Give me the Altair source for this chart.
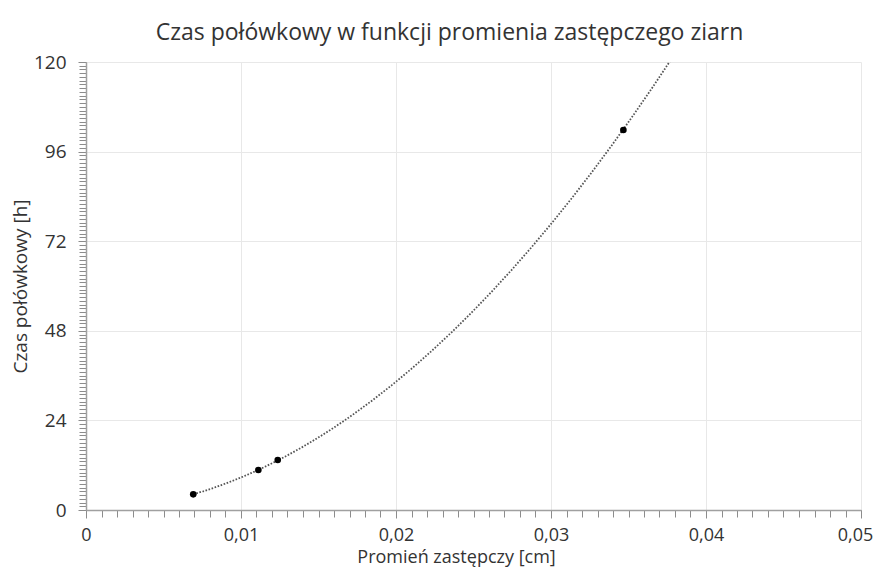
import altair as alt
import pandas as pd

# Data
promien = [0.00692, 0.01112, 0.01237, 0.03467]
czas = [4.2, 10.7, 13.4, 101.8]

x_major = [0, 0.01, 0.02, 0.03, 0.04, 0.05]
x_minor = [i / 1000 for i in range(0, 51)]
y_major = [0, 24, 48, 72, 96, 120]
y_minor = list(range(0, 121))

df = pd.DataFrame({"x": promien, "y": czas})

FONT = "Open Sans"
AXIS_GRAY = "#a0a0a0"
TICK_GRAY = "#8c8c8c"
GRID_GRAY = "#e8e8e8"
TXT = "#333333"

xscale = alt.Scale(domain=[0, 0.05], nice=False, zero=False)
yscale = alt.Scale(domain=[0, 120], nice=False)

base = alt.Chart(df)

# Main layer: points, with major axes and grid
points = base.mark_circle(size=44, color="black", opacity=1).encode(
    x=alt.X("x:Q", scale=xscale,
            axis=alt.Axis(values=x_major, grid=True, gridColor=GRID_GRAY,
                          domainColor=AXIS_GRAY, domainWidth=1.5,
                          tickColor=TICK_GRAY, tickSize=8,
                          labelExpr="replace(format(datum.value, '.2~f'), '.', ',')",
                          labelFlush=False,
                          labelOffset={"condition": {"test": "datum.value >= 0.049", "value": -6},
                                       "value": 0},
                          labelFontSize=18, labelColor=TXT, labelFont=FONT, labelPadding=8,
                          title="Promień zastępczy [cm]", titleFont=FONT, titleFontSize=18,
                          titleFontWeight="normal", titleColor=TXT, titlePadding=4,
                          titleX=370, orient="bottom")),
    y=alt.Y("y:Q", scale=yscale,
            axis=alt.Axis(values=y_major, grid=True, gridColor=GRID_GRAY,
                          domainColor=AXIS_GRAY, domainWidth=1.5,
                          tickColor=TICK_GRAY, tickSize=8,
                          labelFontSize=19, labelColor=TXT, labelFont=FONT, labelPadding=12,
                          title="Czas połówkowy [h]", titleFont=FONT, titleFontSize=19,
                          titleFontWeight="normal", titleColor=TXT, titlePadding=3,
                          orient="left")),
)

# Trendline (power regression) with minor-tick axes
trend = base.transform_regression(
    "x", "y", method="pow", extent=[0.00692, 0.0390]
).mark_line(color="#555555", strokeDash=[1.6, 1.6], strokeWidth=1.8, clip=True).encode(
    x=alt.X("x:Q", scale=xscale,
            axis=alt.Axis(values=x_minor, grid=False, labels=False, domain=False,
                          tickColor=TICK_GRAY, tickSize=7, tickWidth=1, title=None,
                          orient="bottom")),
    y=alt.Y("y:Q", scale=yscale,
            axis=alt.Axis(values=y_minor, grid=False, labels=False, domain=False,
                          tickColor=TICK_GRAY, tickSize=7, tickWidth=1, title=None,
                          orient="left")),
)

chart = alt.layer(trend, points).resolve_axis(
    x="independent", y="independent"
).properties(
    width=775,
    height=448,
    autosize=alt.AutoSizeParams(type="none"),
    padding={"left": 78, "top": 54, "right": 13, "bottom": 58},
    title=alt.TitleParams(
        "Czas połówkowy w funkcji promienia zastępczego ziarn",
        font=FONT, fontSize=23, fontWeight="normal", color=TXT,
        anchor="middle", offset=8, dx=-24,
    ),
).configure_view(stroke=None)

chart.save("out.html", embed_options={"renderer": "svg", "actions": False})
